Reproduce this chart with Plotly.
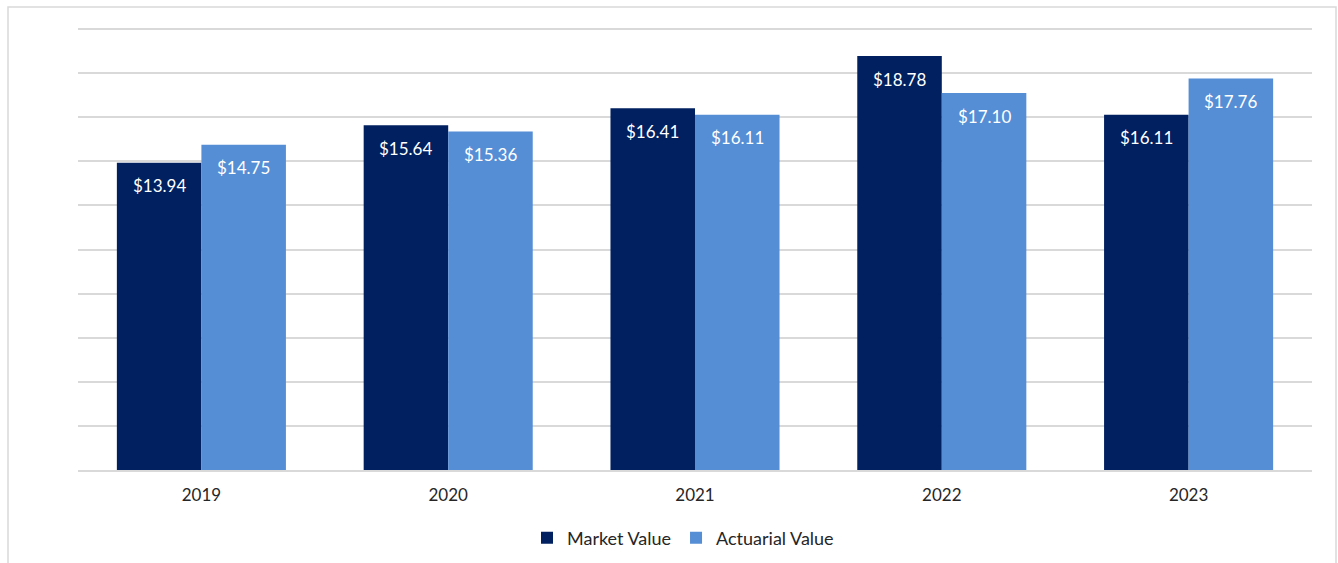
import plotly.graph_objects as go

years = ["2019", "2020", "2021", "2022", "2023"]
market_value = [13.94, 15.64, 16.41, 18.78, 16.11]
actuarial_value = [14.75, 15.36, 16.11, 17.10, 17.76]

MARKET_COLOR = "#002060"
ACTUARIAL_COLOR = "#558ED5"
FONT = "Lato, 'Open Sans', sans-serif"

fig = go.Figure()
fig.add_trace(go.Bar(name="Market Value", x=years, y=market_value,
                     marker=dict(color=MARKET_COLOR, line=dict(width=0))))
fig.add_trace(go.Bar(name="Actuarial Value", x=years, y=actuarial_value,
                     marker=dict(color=ACTUARIAL_COLOR, line=dict(width=0))))

bargap = 0.315
half = (1 - bargap) / 4
for i, (m, a) in enumerate(zip(market_value, actuarial_value)):
    for val, dx in ((m, -half), (a, half)):
        fig.add_annotation(x=i + dx, y=val, text=f"${val:.2f}", showarrow=False,
                           xref="x", yref="y", yanchor="middle", yshift=-23,
                           font=dict(color="white", size=17, family=FONT))

# layout geometry (pixels)
L, R, T, B = 78, 26, 28, 93
W, H = 1338 - L - R, 563 - T - B


def px_x(x):
    return (x - L) / W


def px_y(y):
    return (H + T - y) / H


# outer chart border
fig.add_shape(type="rect", xref="paper", yref="paper",
              x0=px_x(8), x1=px_x(1336), y0=px_y(580), y1=px_y(7),
              line=dict(color="#D9D9D9", width=1.5), fillcolor="rgba(0,0,0,0)", layer="below")

fig.update_layout(
    width=1338, height=563,
    margin=dict(l=L, r=R, t=T, b=B, autoexpand=False),
    barmode="group", bargap=bargap, bargroupgap=0,
    plot_bgcolor="white", paper_bgcolor="white",
    font=dict(family=FONT, color="#262626", size=16),
    showlegend=True,
    legend=dict(orientation="h", x=0.5 - 12 / W, xanchor="center",
                y=px_y(538), yanchor="middle",
                font=dict(size=18, color="#262626"),
                traceorder="normal", itemclick=False),
    xaxis=dict(showline=True, linecolor="#D9D9D9", linewidth=1.5, ticks="",
               ticklabelstandoff=9,
               tickfont=dict(size=17, color="#262626"), range=[-0.5, 4.5]),
    yaxis=dict(range=[0, 20.05], dtick=2, showticklabels=False, showgrid=True,
               gridcolor="#D9D9D9", gridwidth=1.5, zeroline=False, showline=False),
)

fig.write_html("out.html", config={"displayModeBar": False},
               post_script="document.body.style.margin='0';")
